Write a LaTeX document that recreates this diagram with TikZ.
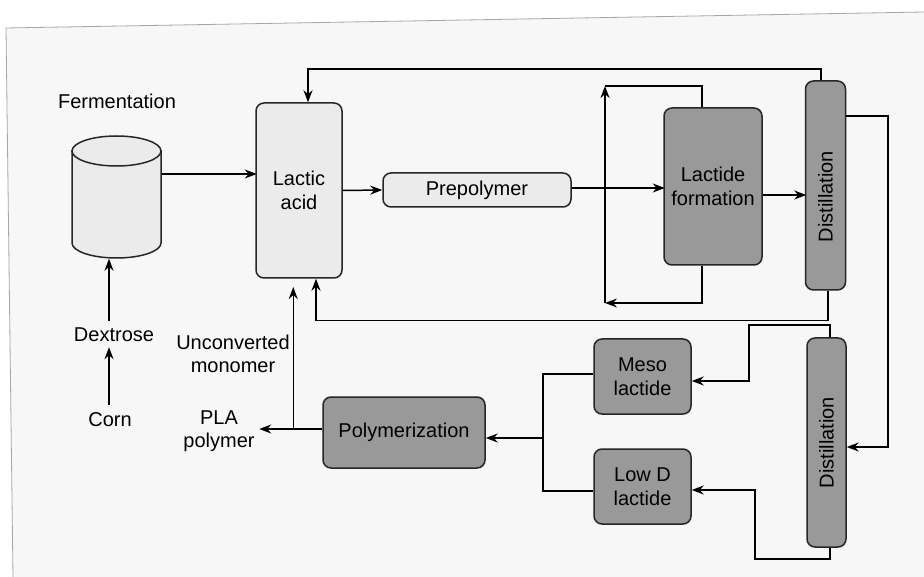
\documentclass[tikz,border=0pt]{standalone}
\usepackage{fontspec}
\setmainfont{Liberation Sans}
\usetikzlibrary{arrows.meta,calc}
\begin{document}
\begin{tikzpicture}[x=1pt,y=-1pt,
  line width=1.5pt,
  arr/.style={-{Stealth[length=12pt,width=9pt]}},
  box/.style={draw=black!85, rounded corners=8pt, align=center, inner sep=0pt,
    font=\fontsize{20}{24.5}\selectfont},
  light/.style={box, fill=black!8},
  dark/.style={box, fill=black!40},
  lbl/.style={align=center, inner sep=0pt, font=\fontsize{20}{23.5}\selectfont}]
\useasboundingbox (0,0) rectangle (924,577);
\fill[white] (0,0) rectangle (924,577);
\fill[black!3] (6,28) -- (924,12) -- (924,577) -- (13,577) -- cycle;
\draw[black!35, line width=0.8pt] (13,577) -- (6,28) -- (924,12);

% fermentation vessel
\node[minimum width=89pt, minimum height=122pt, inner sep=0pt] (ferm) at (116.5,197) {};
\filldraw[fill=black!8, draw=black!85] (72,151) -- (72,243)
  arc[start angle=180, end angle=360, x radius=44.5pt, y radius=15pt] -- (161,151) -- cycle;
\filldraw[fill=black!8, draw=black!85] (116.5,151) ellipse[x radius=44.5pt, y radius=15pt];

% boxes
\node[light, minimum width=86pt, minimum height=175pt] (lac) at (299,190.5) {Lactic\\acid};
\node[light, minimum width=188pt, minimum height=34pt] (pre) at (477,190) {Prepolymer};
\node[dark, minimum width=98pt, minimum height=157pt] (lf) at (713,186.5) {Lactide\\formation};
\node[dark, minimum width=40pt, minimum height=209pt] (d1) at (825.5,185.5) {\rotatebox{90}{Distillation\hspace*{22pt}}};
\node[dark, minimum width=39pt, minimum height=209pt] (d2) at (826.5,442.5) {\rotatebox{90}{Distillation}};
\node[dark, minimum width=97pt, minimum height=75pt] (meso) at (642.5,376.5) {Meso\\lactide};
\node[dark, minimum width=97pt, minimum height=75pt] (lowd) at (642.5,486.5) {Low D\\lactide};
\node[dark, minimum width=162pt, minimum height=71pt] (poly) at (404,432.5) {Polymerization};

% labels
\node[lbl] (fl) at (117,101) {Fermentation};
\node[lbl] (dex) at (114,335) {Dextrose};
\node[lbl] (corn) at (110,420) {Corn};
\node[lbl] (unc) at (233,354) {Unconverted\\monomer};
\node[lbl] (pla) at (219,431) {PLA\\polymer};

% coordinates
\coordinate (lb) at (605,303);
\coordinate (lt) at (605,86);
\coordinate (rx) at (888,447);
\coordinate (bm) at (543,438);

% connectors
\draw[arr] ([xshift=-1pt,yshift=7pt]corn.north) -- ++(0,-58);
\draw[arr] ([xshift=-5pt,yshift=6pt]dex.north) -- ([xshift=-7.5pt]ferm.south);
\draw[arr] ([yshift=23pt]ferm.east) -- ++(95,0);
\draw[arr] (lac.east) -- (pre.west);
\draw[arr] ([yshift=2pt]pre.east) -- ++(93,0);
\draw[arr] ([xshift=-11pt]lf.south) |- (lb);
\draw[arr] (lb) -- (lt);
\draw (lt) -| ([xshift=-11pt]lf.north);
\draw[arr] ([yshift=-8.5pt]lf.east) -- ++(43.5,0);
\draw[arr] ([xshift=-4.5pt]d1.north) -- ++(0,-11) -| ([xshift=9pt]lac.north);
\draw[arr] ([xshift=2.5pt]d1.south) -- ++(0,30) -| ([xshift=17pt]lac.south);
\draw[arr] ([yshift=69.5pt]d1.east) -| (rx) -- ([yshift=-4.5pt]d2.east);
\draw[arr] ([xshift=3.5pt]d2.north) -- ++(0,-12) -- ++(-81,0) |- ([yshift=-4.5pt]meso.east);
\draw[arr] ([xshift=3.5pt]d2.south) -- ++(0,11) -- ++(-75,0) |- ([yshift=-3.5pt]lowd.east);
\draw ([yshift=2.5pt]meso.west) -| (bm);
\draw ([yshift=-4.5pt]lowd.west) -| (bm);
\draw[arr] (bm) -- (bm -| poly.east);
\draw[arr] ([yshift=3.5pt]poly.west) -- ++(-63,0);
\draw[arr] ([yshift=3.5pt]poly.west) ++(-29,0) -- ++(0,-142);
\end{tikzpicture}
\end{document}
